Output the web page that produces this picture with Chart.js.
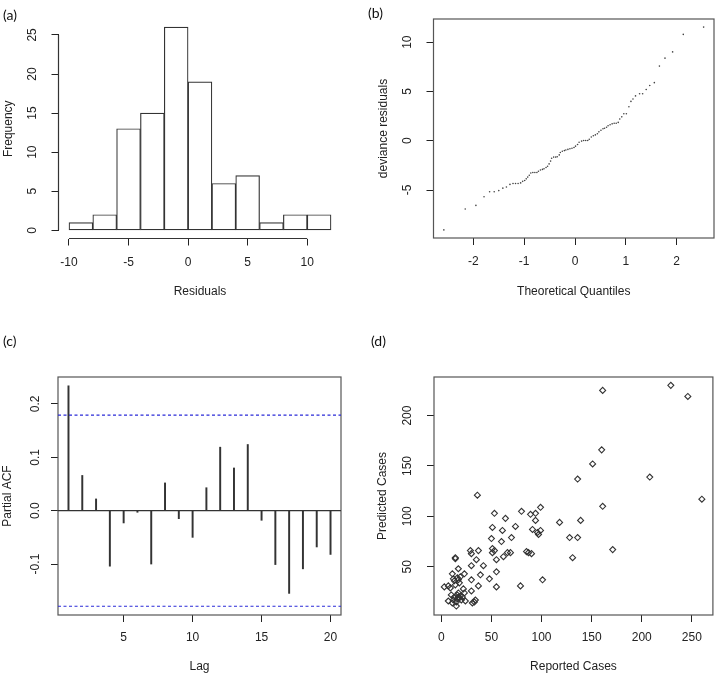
<!DOCTYPE html>
<html>
<head>
<meta charset="utf-8">
<title>Residual diagnostics</title>
<script src="https://cdn.jsdelivr.net/npm/chart.js@4.4.1/dist/chart.umd.min.js"></script>
<style>
  body { margin: 0; background: #fff; }
  .page { position: relative; width: 718px; height: 676px; overflow: hidden; }
  .page canvas { position: absolute; }
  .tag { position: absolute; font: 14px Lato, sans-serif; color: #111; line-height: 17px; }
</style>
</head>
<body>
<div class="page">
  <canvas id="histChart" width="359" height="310" style="left:0;top:0"></canvas>
  <canvas id="qqChart" width="359" height="310" style="left:359px;top:0"></canvas>
  <canvas id="pacfChart" width="359" height="356" style="left:0;top:320px"></canvas>
  <canvas id="scatterChart" width="359" height="356" style="left:359px;top:320px"></canvas>
  <div class="tag" style="left:3px;top:6px">(a)</div>
  <div class="tag" style="left:368px;top:4px">(b)</div>
  <div class="tag" style="left:3px;top:332px">(c)</div>
  <div class="tag" style="left:371px;top:332px">(d)</div>
</div>

<script>
  // (a) histogram of residuals
  const histBinStart = [-10, -8, -6, -4, -2, 0, 2, 4, 6, 8, 10];
  const histBinWidth = 2;
  const histFreq = [1, 2, 13, 15, 26, 19, 6, 7, 1, 2, 2];
  const histXTicks = [-10, -5, 0, 5, 10];
  const histYTicks = [0, 5, 10, 15, 20, 25];

  // (b) normal QQ plot of deviance residuals
  const qqTheoretical = [-2.58, -2.16, -1.95, -1.79, -1.68, -1.59, -1.50, -1.42, -1.35, -1.28,
    -1.22, -1.17, -1.12, -1.07, -1.03, -0.99, -0.96, -0.93, -0.90, -0.87,
    -0.83, -0.79, -0.75, -0.72, -0.68, -0.64, -0.61, -0.57, -0.54, -0.51,
    -0.48, -0.46, -0.42, -0.38, -0.35, -0.31, -0.29, -0.25, -0.21, -0.18,
    -0.14, -0.10, -0.06, -0.02, 0.01, 0.05, 0.08, 0.13, 0.17, 0.21,
    0.25, 0.28, 0.32, 0.36, 0.40, 0.44, 0.47, 0.51, 0.55, 0.58,
    0.62, 0.65, 0.69, 0.73, 0.77, 0.81, 0.85, 0.88, 0.92, 0.96,
    1.01, 1.06, 1.10, 1.14, 1.19, 1.27, 1.33, 1.40, 1.47, 1.56,
    1.66, 1.77, 1.92, 2.13, 2.53];
  const qqResidual = [-9.05, -6.93, -6.56, -5.68, -5.18, -5.18, -5.06, -4.81, -4.69, -4.43,
    -4.34, -4.34, -4.34, -4.28, -4.12, -4.03, -3.87, -3.69, -3.50, -3.28,
    -3.22, -3.22, -3.22, -3.09, -2.97, -2.91, -2.84, -2.72, -2.59, -2.35,
    -2.07, -1.78, -1.66, -1.66, -1.63, -1.44, -1.19, -1.07, -1.00, -0.94,
    -0.88, -0.81, -0.76, -0.69, -0.55, -0.38, -0.16, -0.04, 0.03, 0.03,
    0.03, 0.15, 0.37, 0.50, 0.59, 0.71, 0.90, 1.06, 1.21, 1.27,
    1.37, 1.52, 1.62, 1.71, 1.77, 1.77, 1.86, 2.21, 2.42, 2.74,
    2.74, 3.45, 3.99, 4.24, 4.55, 4.76, 4.76, 5.20, 5.60, 5.89,
    7.57, 8.38, 9.01, 10.79, 11.53];
  const qqXTicks = [-2, -1, 0, 1, 2];
  const qqYTicks = [-5, 0, 5, 10];

  // (c) partial autocorrelation of residuals
  const pacfLag = [1, 2, 3, 4, 5, 6, 7, 8, 9, 10, 11, 12, 13, 14, 15, 16, 17, 18, 19, 20];
  const pacfValue = [0.234, 0.066, 0.022, -0.104, -0.023, -0.003, -0.100, 0.052, -0.015, -0.050,
    0.043, 0.119, 0.080, 0.124, -0.018, -0.101, -0.155, -0.109, -0.068, -0.082];
  const pacfLimit = 0.179;
  const pacfXTicks = [5, 10, 15, 20];
  const pacfYTicks = [-0.1, 0, 0.1, 0.2];

  // (d) predicted vs reported cases
  const reportedCases = [229, 246, 161, 160, 151, 136, 208, 260, 161, 139, 118, 128, 136, 131, 171,
    36, 99, 80, 94, 89, 53, 64, 94, 91, 99, 96, 97, 74, 51, 61, 70, 60, 50,
    29, 37, 51, 53, 51, 66, 69, 85, 87, 90, 62, 55, 30, 35, 14, 14, 30, 42, 17, 23, 39, 11, 48, 55,
    30, 13, 16, 18, 22, 37, 55, 79, 101,
    3, 7, 9, 30, 33, 34, 7, 11, 13, 16, 17, 20, 15, 12, 24, 10, 23, 17, 21, 18, 19, 16, 31, 15, 14, 19, 12, 17];
  const predictedCases = [230, 219, 225, 166, 152, 137, 139, 117, 110, 96, 94, 79, 79, 59, 67,
    121, 109, 105, 103, 102, 103, 98, 96, 87, 86, 84, 82, 90, 89, 86, 79, 75, 78,
    66, 66, 68, 66, 64, 64, 64, 65, 64, 63, 60, 57, 63, 57, 59, 58, 51, 51, 48, 43, 42, 43, 38, 45,
    37, 36, 39, 34, 28, 31, 30, 31, 37,
    30, 31, 29, 26, 15, 17, 16, 14, 20, 22, 20, 17, 11, 17, 16, 22, 24, 24, 20, 19, 21, 18, 14, 15, 32, 40, 38, 37];
  const scatterXTicks = [0, 50, 100, 150, 200, 250];
  const scatterYTicks = [50, 100, 150, 200];

  const INK = '#222';
  const FONT = "'Liberation Sans', Arial, sans-serif";

  // base-R look: ticks outside, no grid, fixed axis sizes so the plot areas line up
  function axis(o) {
    const left = o.position === 'left';
    return {
      type: 'linear',
      position: o.position,
      min: o.min,
      max: o.max,
      offset: false,
      grid: { display: true, drawOnChartArea: false, drawTicks: true, tickLength: 7,
              tickColor: INK, tickWidth: 1, offset: false },
      border: { display: false },
      ticks: {
        color: INK,
        font: { family: FONT, size: 12 },
        padding: o.tickPad,
        autoSkip: false,
        minRotation: left ? 90 : 0,
        maxRotation: left ? 90 : 0,
        crossAlign: left ? 'center' : 'near',
        callback: o.fmt || (v => String(v))
      },
      afterBuildTicks: s => { s.ticks = o.values.map(v => ({ value: v })); },
      afterFit: s => { if (left) s.width = o.size; else s.height = o.size; },
      title: {
        display: true, text: o.title, color: INK,
        font: { family: FONT, size: 12 },
        padding: left ? { top: o.titlePad, bottom: 0 } : { top: 0, bottom: o.titlePad }
      }
    };
  }

  const rFrame = {
    id: 'rFrame',
    afterDatasetsDraw(chart, args, opt) {
      const { ctx, chartArea: a, scales: { x, y } } = chart;
      ctx.save();
      ctx.strokeStyle = opt.color || '#444';
      ctx.lineWidth = opt.lineWidth || 1;
      if (opt.box) {
        ctx.strokeRect(a.left, a.top, a.right - a.left, a.bottom - a.top);
      } else {
        // open axes: line only between first and last tick
        const xt = x.ticks, yt = y.ticks;
        ctx.beginPath();
        ctx.moveTo(x.getPixelForValue(xt[0].value), a.bottom);
        ctx.lineTo(x.getPixelForValue(xt[xt.length - 1].value), a.bottom);
        ctx.moveTo(a.left, y.getPixelForValue(yt[0].value));
        ctx.lineTo(a.left, y.getPixelForValue(yt[yt.length - 1].value));
        ctx.stroke();
      }
      (opt.hlines || []).forEach(h => {
        const py = y.getPixelForValue(h.y);
        ctx.beginPath();
        ctx.strokeStyle = h.color;
        ctx.lineWidth = h.width;
        ctx.setLineDash(h.dash || []);
        ctx.moveTo(a.left, py);
        ctx.lineTo(a.right, py);
        ctx.stroke();
      });
      ctx.restore();
    }
  };

  const base = {
    responsive: false,
    animation: false,
    devicePixelRatio: 1,
    events: []
  };

  // (a)
  new Chart(document.getElementById('histChart'), {
    type: 'bar',
    data: {
      datasets: [{
        data: histBinStart.map((s, i) => ({ x: s + histBinWidth / 2, y: histFreq[i] })),
        backgroundColor: '#fff',
        borderColor: '#333',
        borderWidth: 1.2,
        borderSkipped: false,
        barPercentage: 1,
        categoryPercentage: 1,
        grouped: false
      }]
    },
    options: {
      ...base,
      layout: { padding: { left: 0, top: 0, right: 17.5, bottom: 0 } },
      plugins: { legend: { display: false }, tooltip: { enabled: false }, rFrame: { box: false, color: '#333', lineWidth: 1.2 } },
      scales: {
        x: axis({ position: 'bottom', min: -10.88, max: 12.88, values: histXTicks, size: 71.5,
                  tickPad: 9.8, title: 'Residuals', titlePad: 10.8 }),
        y: axis({ position: 'left', min: -1.04, max: 27.04, values: histYTicks, size: 58.5,
                  tickPad: 11.8, title: 'Frequency', titlePad: 1.3 })
      }
    },
    plugins: [rFrame]
  });

  // (b)
  new Chart(document.getElementById('qqChart'), {
    type: 'scatter',
    data: {
      datasets: [{
        data: qqTheoretical.map((t, i) => ({ x: t, y: qqResidual[i] })),
        pointRadius: 0.8,
        pointBorderWidth: 0,
        pointBackgroundColor: '#444'
      }]
    },
    options: {
      ...base,
      layout: { padding: { left: 0, top: 0.5, right: 1.5, bottom: 0 } },
      plugins: { legend: { display: false }, tooltip: { enabled: false }, rFrame: { box: true, color: '#555', lineWidth: 1.2 } },
      scales: {
        x: axis({ position: 'bottom', min: -2.784, max: 2.734, values: qqXTicks, size: 72,
                  tickPad: 9.8, title: 'Theoretical Quantiles', titlePad: 10.8 }),
        y: axis({ position: 'left', min: -9.87, max: 12.35, values: qqYTicks, size: 74.5,
                  tickPad: 11.8, title: 'deviance residuals', titlePad: 17.3 })
      }
    },
    plugins: [rFrame]
  });

  // (c)
  new Chart(document.getElementById('pacfChart'), {
    type: 'bar',
    data: {
      datasets: [{
        data: pacfLag.map((l, i) => ({ x: l, y: pacfValue[i] })),
        backgroundColor: '#333',
        borderWidth: 0,
        barThickness: 1.3,
        grouped: false
      }]
    },
    options: {
      ...base,
      layout: { padding: { left: 0, top: 57, right: 18, bottom: 0 } },
      plugins: {
        legend: { display: false }, tooltip: { enabled: false },
        rFrame: {
          box: true, color: '#555', lineWidth: 1.2,
          hlines: [
            { y: 0, color: '#333', width: 1.1 },
            { y: pacfLimit, color: '#2a2ad8', width: 1.1, dash: [3, 2.5] },
            { y: -pacfLimit, color: '#2a2ad8', width: 1.1, dash: [3, 2.5] }
          ]
        }
      },
      scales: {
        x: axis({ position: 'bottom', min: 0.24, max: 20.76, values: pacfXTicks, size: 61,
                  tickPad: 8.8, title: 'Lag', titlePad: 1.8 }),
        y: axis({ position: 'left', min: -0.1955, max: 0.2505, values: pacfYTicks, size: 58,
                  tickPad: 5.2, title: 'Partial ACF', titlePad: 0.5, fmt: v => v.toFixed(1) })
      }
    },
    plugins: [rFrame]
  });

  // (d)
  new Chart(document.getElementById('scatterChart'), {
    type: 'scatter',
    data: {
      datasets: [{
        data: reportedCases.map((r, i) => ({ x: r, y: predictedCases[i] })),
        pointStyle: 'rectRot',
        pointRadius: 3,
        pointBorderWidth: 1.1,
        pointBorderColor: '#333',
        pointBackgroundColor: 'rgba(0,0,0,0)'
      }]
    },
    options: {
      ...base,
      layout: { padding: { left: 0, top: 57, right: 1, bottom: 0 } },
      plugins: { legend: { display: false }, tooltip: { enabled: false }, rFrame: { box: true, color: '#555', lineWidth: 1.2 } },
      scales: {
        x: axis({ position: 'bottom', min: -7.3, max: 271, values: scatterXTicks, size: 61,
                  tickPad: 8.8, title: 'Reported Cases', titlePad: 1.8 }),
        y: axis({ position: 'left', min: 2.1, max: 238.3, values: scatterYTicks, size: 75,
                  tickPad: 9, title: 'Predicted Cases', titlePad: 16.8 })
      }
    },
    plugins: [rFrame]
  });
</script>
</body>
</html>
